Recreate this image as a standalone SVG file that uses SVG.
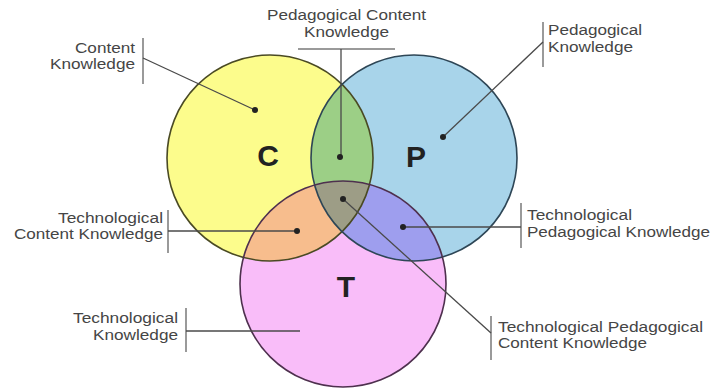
<svg xmlns="http://www.w3.org/2000/svg" width="712" height="389" viewBox="0 0 712 389">
<style>
.lbl{font-family:"Liberation Sans",Arial,sans-serif;font-size:14px;fill:#454545;}
.big{font-family:"Liberation Sans",Arial,sans-serif;font-size:30px;font-weight:bold;fill:#222;text-anchor:middle;}
.bar{stroke:#9a9a9a;stroke-width:2;fill:none;}
.lead{stroke:#4a4a4a;stroke-width:1.3;fill:none;}
.dot{fill:#222;}
.edge{fill:none;stroke-width:1.6;}
</style>
<defs>
<clipPath id="clipC"><circle cx="270" cy="158" r="103"/></clipPath>
<clipPath id="clipP"><circle cx="414" cy="158" r="103"/></clipPath>
</defs>
<rect width="712" height="389" fill="#ffffff"/>
<g id="circle-C"><circle cx="270" cy="158" r="103" fill="#fcfc8c"/></g>
<g id="circle-P"><circle cx="414" cy="158" r="103" fill="#a8d4ea"/></g>
<g id="circle-T"><circle cx="343" cy="284" r="103" fill="#f9bdf9"/></g>
<g id="region-CP"><circle cx="414" cy="158" r="103" fill="#9ccf86" clip-path="url(#clipC)"/></g>
<g id="region-CT"><circle cx="343" cy="284" r="103" fill="#f7bd8d" clip-path="url(#clipC)"/></g>
<g id="region-PT"><circle cx="343" cy="284" r="103" fill="#9e9eee" clip-path="url(#clipP)"/></g>
<g id="region-CPT" clip-path="url(#clipC)"><circle cx="343" cy="284" r="103" fill="#9d9d86" clip-path="url(#clipP)"/></g>
<g id="outlines">
<circle class="edge" cx="270" cy="158" r="103" stroke="#4a4a24"/>
<circle class="edge" cx="414" cy="158" r="103" stroke="#2e4656"/>
<circle class="edge" cx="343" cy="284" r="103" stroke="#4e304e"/>
</g>
<g id="letters">
<text class="big" x="268" y="166">C</text>
<text class="big" x="416" y="167">P</text>
<text class="big" x="346" y="297">T</text>
</g>
<g id="connectors">
<path class="bar" d="M143 38V84"/>
<path class="lead" d="M143 58L255 110"/>
<path class="bar" d="M298 49H395"/>
<path class="lead" d="M341 49V157"/>
<path class="bar" d="M543 22V67"/>
<path class="lead" d="M543 42L443 137"/>
<path class="bar" d="M168 210V253"/>
<path class="lead" d="M168 231H297"/>
<path class="bar" d="M521 203V248"/>
<path class="lead" d="M521 227H403"/>
<path class="bar" d="M186 308V352"/>
<path class="lead" d="M186 331H300"/>
<path class="bar" d="M491 316V360"/>
<path class="lead" d="M491 333L343 199"/>
<circle class="dot" cx="255" cy="110" r="3"/>
<circle class="dot" cx="340" cy="157" r="3"/>
<circle class="dot" cx="443" cy="137" r="3"/>
<circle class="dot" cx="297" cy="231" r="3"/>
<circle class="dot" cx="403" cy="227" r="3"/>
<circle class="dot" cx="343" cy="199" r="3"/>
</g>
<g id="label-CK">
<text class="lbl" x="135" y="53" text-anchor="end" textLength="60" lengthAdjust="spacingAndGlyphs">Content</text>
<text class="lbl" x="135" y="69" text-anchor="end" textLength="85" lengthAdjust="spacingAndGlyphs">Knowledge</text>
</g>
<g id="label-PCK">
<text class="lbl" x="267" y="20" textLength="159" lengthAdjust="spacingAndGlyphs">Pedagogical Content</text>
<text class="lbl" x="304" y="37" textLength="85" lengthAdjust="spacingAndGlyphs">Knowledge</text>
</g>
<g id="label-PK">
<text class="lbl" x="548" y="35" textLength="94" lengthAdjust="spacingAndGlyphs">Pedagogical</text>
<text class="lbl" x="548" y="52" textLength="85" lengthAdjust="spacingAndGlyphs">Knowledge</text>
</g>
<g id="label-TCK">
<text class="lbl" x="163" y="223" text-anchor="end" textLength="105" lengthAdjust="spacingAndGlyphs">Technological</text>
<text class="lbl" x="163" y="239" text-anchor="end" textLength="149" lengthAdjust="spacingAndGlyphs">Content Knowledge</text>
</g>
<g id="label-TPK">
<text class="lbl" x="527" y="220" textLength="105" lengthAdjust="spacingAndGlyphs">Technological</text>
<text class="lbl" x="527" y="237" textLength="183" lengthAdjust="spacingAndGlyphs">Pedagogical Knowledge</text>
</g>
<g id="label-TK">
<text class="lbl" x="178" y="323" text-anchor="end" textLength="105" lengthAdjust="spacingAndGlyphs">Technological</text>
<text class="lbl" x="178" y="340" text-anchor="end" textLength="85" lengthAdjust="spacingAndGlyphs">Knowledge</text>
</g>
<g id="label-TPCK">
<text class="lbl" x="498" y="332" textLength="205" lengthAdjust="spacingAndGlyphs">Technological Pedagogical</text>
<text class="lbl" x="498" y="348" textLength="149" lengthAdjust="spacingAndGlyphs">Content Knowledge</text>
</g>
</svg>
